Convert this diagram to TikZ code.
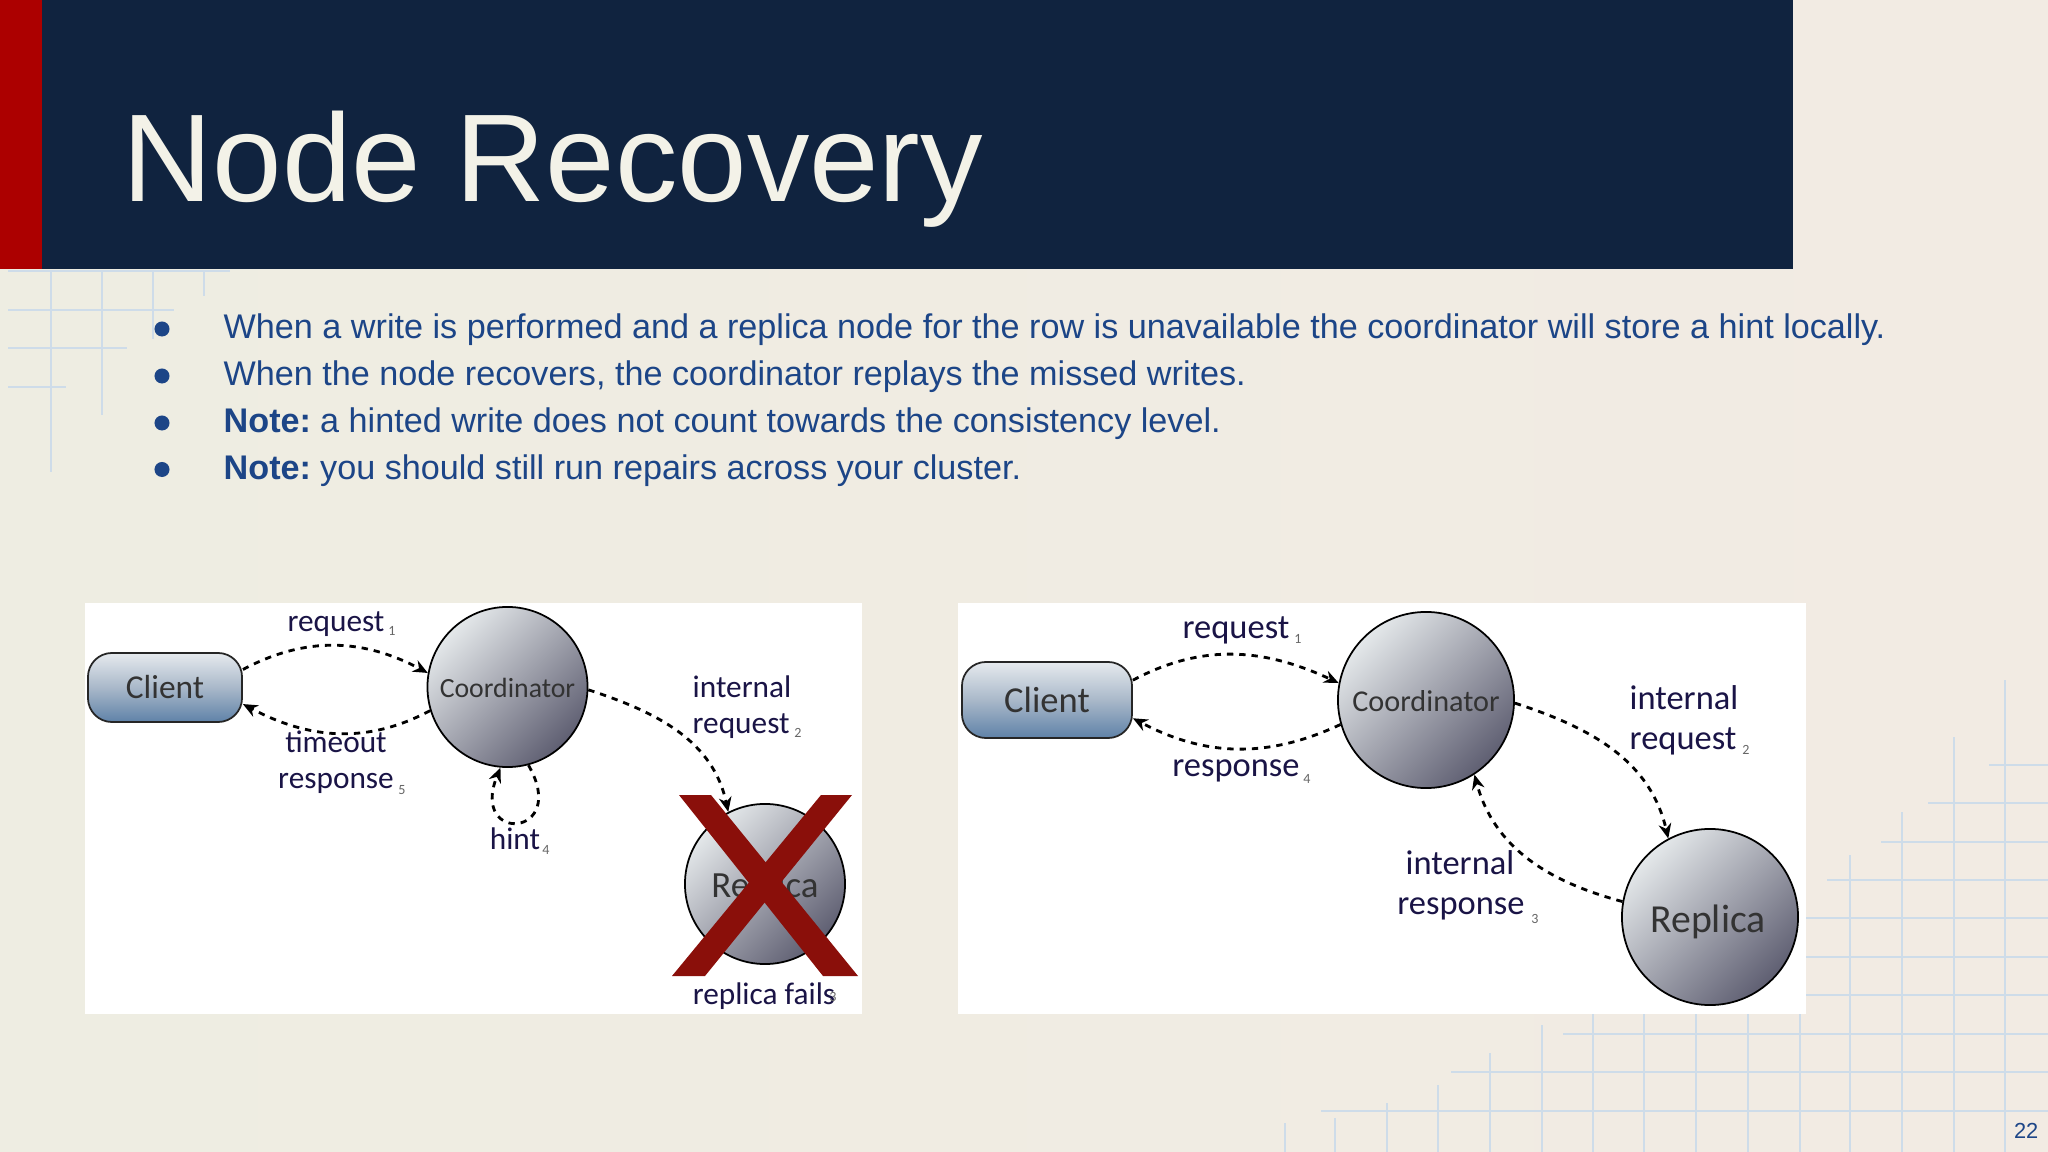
\documentclass[tikz,border=0pt]{standalone}
\usepackage{fontspec}
\setmainfont{Liberation Sans}
\newfontfamily\gillfont{Carlito}
\usetikzlibrary{arrows.meta, shapes.geometric}
\definecolor{navy}{HTML}{10233F}
\definecolor{redbar}{HTML}{AC0000}
\definecolor{bodyblue}{HTML}{1C4587}
\definecolor{gridblue}{HTML}{CEDCE9}
\definecolor{inkblue}{HTML}{1A1446}
\definecolor{crossred}{HTML}{8A0F0A}
\definecolor{bgleft}{HTML}{EEEDE2}
\definecolor{bgright}{HTML}{F2EBE3}
\definecolor{titlecream}{HTML}{F3F2E8}
\definecolor{shadelight}{HTML}{E4E8EA}
\definecolor{shademid}{HTML}{A6A6AE}
\definecolor{shadedark}{HTML}{5F5F72}
\definecolor{boxtop}{HTML}{E6EAEE}
\definecolor{boxmid}{HTML}{A9B8C9}
\definecolor{boxbottom}{HTML}{5F82A8}
\tikzset{
  gridline/.style={line width=0.75pt, color=gridblue},
  bodytext/.style={anchor=base west, inner sep=0pt, text=bodyblue, font=\fontsize{9.72}{11}\selectfont},
  bulletdot/.style={circle, fill=bodyblue, inner sep=0pt, minimum size=0.15cm},
  lblsmall/.style={anchor=base, inner sep=0pt, text=inkblue, font=\gillfont\fontsize{8.9}{10}\selectfont},
  lblbig/.style={anchor=base, inner sep=0pt, text=inkblue, font=\gillfont\fontsize{9.8}{11}\selectfont},
  insidetxt/.style={anchor=base, inner sep=0pt, text=black!80},
  subnum/.style={anchor=base, inner sep=0pt, text=black!60, font=\gillfont\fontsize{4}{5}\selectfont},
  clientbox/.style={rectangle, rounded corners=2.4mm, draw=black!85, line width=0.5pt,
    top color=boxtop, bottom color=boxbottom, middle color=boxmid},
  noderound/.style={circle, draw=black, line width=0.5pt, inner sep=0pt,
    left color=shadelight, middle color=shademid, right color=shadedark, shading angle=45},
  dasharrow/.style={-{Stealth[length=4.2pt,width=3.6pt]}, line width=0.8pt, dash pattern=on 1.8pt off 1.7pt, color=black}
}
\begin{document}
\begin{tikzpicture}[x=0.01cm, y=-0.01cm]
    \useasboundingbox (0,0) rectangle (2048,1152);

    % Slide background
    \shade[left color=bgleft, right color=bgright] (0,0) rectangle (2048,1152);

    % Grid, top left
    \foreach \y/\xend in {271/230, 310/174, 348/127, 387/66}
      \draw[gridline] (8,\y) -- (\xend,\y);
    \foreach \x/\yend in {51/472, 102/415, 153/339, 204/296}
      \draw[gridline] (\x,271) -- (\x,\yend);

    % Grid, bottom right
    \foreach \y/\xstart in {765/1989, 803/1928, 842/1881, 880/1827, 918/1800, 957/1800, 995/1800, 1034/1563, 1072/1451, 1111/1321}
      \draw[gridline] (\xstart,\y) -- (2048,\y);
    \foreach \x/\ystart in {2005/680, 1954/737, 1902/812, 1850/855, 1800/1000, 1748/1000, 1696/1000, 1644/1000, 1593/1000, 1542/1025, 1490/1053, 1438/1085, 1387/1103, 1335/1118, 1285/1123}
      \draw[gridline] (\x,\ystart) -- (\x,1152);

    % Header band
    \fill[navy] (42,0) rectangle (1793,269);
    \fill[redbar] (0,0) rectangle (42,269);
    \node[anchor=base west, inner sep=0pt, text=titlecream, font=\fontsize{35.5}{40}\selectfont] (title) at (122,202) {Node Recovery};

    % Bullets
    \node[bulletdot] (dota) at (162,329) {};
    \node[bulletdot] (dotb) at (162,376) {};
    \node[bulletdot] (dotc) at (162,423) {};
    \node[bulletdot] (dotd) at (162,469.5) {};
    \node[bodytext] (linea) at (223,339) {When a write is performed and a replica node for the row is unavailable the coordinator will store a hint locally.};
    \node[bodytext] (lineb) at (223,386) {When the node recovers, the coordinator replays the missed writes.};
    \node[bodytext] (linec) at (223,433) {\textbf{Note:}\hspace{-1pt} a hinted write does not count towards the consistency level.};
    \node[bodytext] (lined) at (223,480) {\textbf{Note:}\hspace{-1pt} you should still run repairs across your cluster.};

    % Left panel
    \fill[white] (85,603) rectangle (862,1014);
    \node[clientbox, minimum width=1.54cm, minimum height=0.69cm] (clienta) at (165,687.5) {};
    \node[noderound, minimum size=1.6cm] (coorda) at (507.5,687) {};
    \node[noderound, minimum size=1.6cm] (repla) at (765,884) {};
    \node[insidetxt, font=\gillfont\fontsize{9.5}{10}\selectfont] (clientatxt) at (165,698) {Client};
    \node[insidetxt, font=\gillfont\fontsize{7.9}{9}\selectfont] (coordatxt) at (507.5,697) {Coordinator};
    \node[insidetxt, font=\gillfont\fontsize{10.5}{12}\selectfont] (replatxt) at (765,897) {Replica};

    \draw[dasharrow] (clienta.13) to[out=28,in=152] (coorda.170);
    \draw[dasharrow] (coorda.197) to[out=208,in=-28] (clienta.-12);
    \draw[dasharrow] (coorda.-2) to[out=-18,in=102] (repla.117);
    \draw[dasharrow] (coorda.-75) to[out=-60,in=-112,looseness=7.6] (coorda.-95);

    \node[lblsmall] (reqa) at (336,631) {request};
    \node[subnum] (reqan) at (392,635) {1};
    \node[lblsmall] (toa) at (336,752) {timeout};
    \node[lblsmall] (resa) at (336,788) {response};
    \node[subnum] (resan) at (402,794) {5};
    \node[lblsmall] (hinta) at (515,849) {hint};
    \node[subnum] (hintan) at (546,854) {4};
    \node[lblsmall, anchor=base west] (inta) at (692,697) {internal};
    \node[lblsmall, anchor=base west] (intreqa) at (692,733) {request};
    \node[subnum] (intreqan) at (798,737) {2};
    \node[lblsmall] (failsa) at (764,1004) {replica fails};
    \node[subnum] (failsan) at (833,1001) {3};

    % Red cross
    \fill[crossred] (679,795) -- (711,795) -- (858,976) -- (823,976) -- cycle;
    \fill[crossred] (821,795) -- (852,795) -- (705,976) -- (672,976) -- cycle;

    % Right panel
    \fill[white] (958,603) rectangle (1806,1014);
    \node[clientbox, minimum width=1.7cm, minimum height=0.76cm] (clientb) at (1047,700) {};
    \node[noderound, minimum size=1.76cm] (coordb) at (1426,700) {};
    \node[noderound, minimum size=1.76cm] (replb) at (1710,917) {};
    \node[insidetxt, font=\gillfont\fontsize{10.4}{11}\selectfont] (clientbtxt) at (1047,712) {Client};
    \node[insidetxt, font=\gillfont\fontsize{8.6}{10}\selectfont] (coordbtxt) at (1426,711) {Coordinator};
    \node[insidetxt, font=\gillfont\fontsize{11.3}{13}\selectfont] (replbtxt) at (1708,932) {Replica};

    \draw[dasharrow] (clientb.13) to[out=28,in=155] (coordb.169);
    \draw[dasharrow] (coordb.196) to[out=205,in=-28] (clientb.-12);
    \draw[dasharrow] (coordb.-2) to[out=-18,in=103] (replb.118);
    \draw[dasharrow] (replb.170) to[out=165,in=-75] (coordb.-57);

    \node[lblbig] (reqb) at (1236,638) {request};
    \node[subnum] (reqbn) at (1298,643) {1};
    \node[lblbig] (resb) at (1236,776) {response};
    \node[subnum] (resbn) at (1307,783) {4};
    \node[lblbig, anchor=base west] (intb) at (1629,709) {internal};
    \node[lblbig, anchor=base west] (intreqb) at (1629,749) {request};
    \node[subnum] (intreqbn) at (1746,754) {2};
    \node[lblbig] (intresb) at (1460,874) {internal};
    \node[lblbig] (resbb) at (1461,914) {response};
    \node[subnum] (resbbn) at (1535,923) {3};

    % Page number
    \node[anchor=base east, inner sep=0pt, text=bodyblue, font=\fontsize{6.2}{7}\selectfont] (pagenum) at (2039,1138) {22};
\end{tikzpicture}
\end{document}
